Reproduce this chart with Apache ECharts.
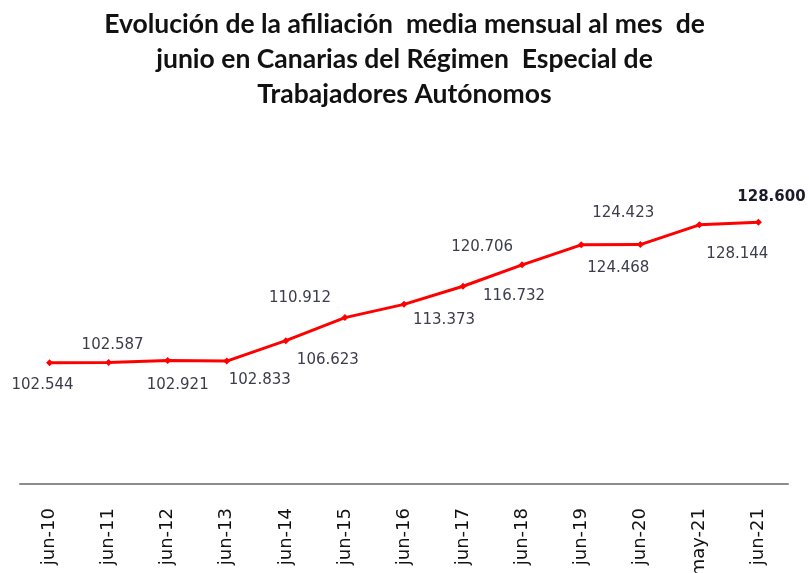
<!DOCTYPE html>
<html>
<head>
<meta charset="utf-8">
<script src="https://cdn.jsdelivr.net/npm/echarts@6/dist/echarts.min.js"></script>
<style>
html,body{margin:0;padding:0;background:#fff;}
#chart{width:809px;height:573px;}
</style>
</head>
<body>
<div id="chart"></div>
<script>
var titleLines = [
  'Evolución de la afiliación  media mensual al mes  de',
  'junio en Canarias del Régimen  Especial de',
  'Trabajadores Autónomos'
];
var categories = ['jun-10','jun-11','jun-12','jun-13','jun-14','jun-15','jun-16','jun-17','jun-18','jun-19','jun-20','may-21','jun-21'];
var afiliacion = [102544, 102587, 102921, 102833, 106623, 110912, 113373, 116732, 120706, 124423, 124468, 128144, 128600];

// label placement (offset from point, in px) – layout only
var labelOffsets = [[-7,22],[4,-17],[10,25],[33,19],[42,19],[-45,-19],[40,16],[51,10],[-40,-18],[42,-32],[-22,23],[38,29],[13,-25]];

function fmt(v){ return String(v).replace(/\B(?=(\d{3})+(?!\d))/g, '.'); }

var chart = echarts.init(document.getElementById('chart'));
var seriesData = afiliacion.map(function(v, i){
  var last = i === afiliacion.length - 1;
  return {
    value: v,
    label: {
      offset: labelOffsets[i],
      fontWeight: last ? 'bold' : 'normal',
      color: last ? '#1a1a2a' : '#3c3c4c'
    }
  };
});

chart.setOption({
  animation: false,
  backgroundColor: '#ffffff',
  title: {
    text: titleLines.join('\n'),
    left: 'center',
    top: 2,
    textStyle: {
      fontFamily: 'Lato',
      fontWeight: 'bold',
      fontSize: 26.5,
      lineHeight: 35,
      color: '#111111'
    }
  },
  grid: { left: 20, right: 21, top: 161, bottom: 89, containLabel: false, outerBoundsMode: 'none' },
  xAxis: {
    type: 'category',
    data: categories,
    boundaryGap: true,
    axisLine: { show: true, lineStyle: { color: '#8c8c8c', width: 2 } },
    axisTick: { show: false },
    axisLabel: {
      rotate: 90,
      margin: 24,
      fontFamily: 'DejaVu Sans',
      fontSize: 18,
      color: '#111111',
      interval: 0
    }
  },
  yAxis: {
    type: 'value',
    min: 80000,
    max: 140000,
    show: false,
    splitLine: { show: false }
  },
  series: [{
    type: 'line',
    data: seriesData,
    symbol: 'diamond',
    symbolSize: 7,
    lineStyle: { color: '#ff0000', width: 3 },
    itemStyle: { color: '#ff0000' },
    label: {
      show: true,
      position: 'inside',
      align: 'center',
      verticalAlign: 'middle',
      fontFamily: 'DejaVu Sans',
      fontSize: 15,
      formatter: function(p){ return fmt(p.value); }
    }
  }]
});
</script>
</body>
</html>
